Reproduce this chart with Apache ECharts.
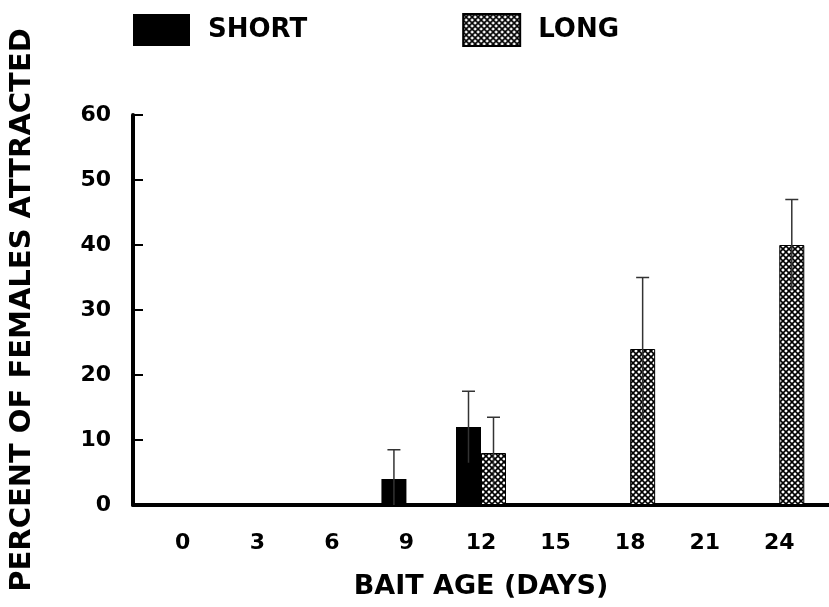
<!DOCTYPE html>
<html>
<head>
<meta charset="utf-8">
<script src="https://cdn.jsdelivr.net/npm/echarts@6/dist/echarts.min.js"></script>
<style>
  html, body { margin: 0; padding: 0; background: #fff; }
  #chart { width: 829px; height: 607px; }
</style>
</head>
<body>
<div id="chart"></div>
<script>
// bait age in days (x ticks)
var days = [0, 3, 6, 9, 12, 15, 18, 21, 24];
// percent of females attracted
var shortVals = [0, 0, 0, 4, 12, 0, 0, 0, 0];
var longVals = [0, 0, 0, 0, 8, 0, 24, 0, 40];
// error bar half-widths
var shortErr = [0, 0, 0, 4.5, 5.5, 0, 0, 0, 0];
var longErr = [0, 0, 0, 0, 5.5, 0, 11, 0, 7];
var yTicks = [0, 10, 20, 30, 40, 50, 60];

var FONT = "DejaVu Sans";
var BAR_W = 25;

// cross hatch fill for the LONG bars
function hatch() {
  var c = document.createElement("canvas");
  c.width = 6;
  c.height = 6;
  var ctx = c.getContext("2d");
  ctx.fillStyle = "#fff";
  ctx.fillRect(0, 0, 6, 6);
  ctx.strokeStyle = "#000";
  ctx.lineWidth = 1.6;
  ctx.beginPath();
  ctx.moveTo(-1, -1); ctx.lineTo(7, 7);
  ctx.moveTo(7, -1); ctx.lineTo(-1, 7);
  ctx.stroke();
  return c;
}
var hatchFill = { image: hatch(), repeat: "repeat" };

function pairs(vals) {
  return days.map(function (d, i) { return [d, vals[i]]; });
}
function errPairs(vals, errs) {
  return days.map(function (d, i) { return [d, vals[i], errs[i]]; });
}

function errorBar(offset) {
  return function (params, api) {
    var e = api.value(2);
    if (!e) return null;
    var x = api.value(0), y = api.value(1);
    var top = api.coord([x, y + e]);
    var bot = api.coord([x, Math.max(0, y - e)]);
    var px = top[0] + offset;
    var style = { stroke: "#333", lineWidth: 1.5 };
    return {
      type: "group",
      children: [
        { type: "line", shape: { x1: px, y1: bot[1], x2: px, y2: top[1] }, style: style },
        { type: "line", shape: { x1: px - 6.5, y1: top[1], x2: px + 6.5, y2: top[1] }, style: style }
      ]
    };
  };
}

var chart = echarts.init(document.getElementById("chart"));
chart.setOption({
  animation: false,
  backgroundColor: "#fff",
  textStyle: { fontFamily: FONT },
  legend: {
    left: 128,
    top: 8,
    itemWidth: 57,
    itemHeight: 32,
    itemGap: 155,
    icon: "rect",
    data: ["SHORT", "LONG"],
    textStyle: { fontFamily: FONT, fontWeight: "bold", fontSize: 26, color: "#000", padding: [0, 0, 0, 13] }
  },
  grid: { left: 132, right: 0, top: 115, bottom: 102 },
  xAxis: {
    type: "value",
    min: -2,
    max: 26,
    name: "BAIT AGE (DAYS)",
    nameLocation: "middle",
    nameGap: 68,
    nameTextStyle: { fontFamily: FONT, fontWeight: "bold", fontSize: 27, color: "#000" },
    axisLine: { show: true, onZero: false, lineStyle: { color: "#000", width: 4 } },
    axisTick: { show: false },
    splitLine: { show: false },
    axisLabel: {
      customValues: days,
      margin: 27,
      fontFamily: FONT, fontWeight: "bold", fontSize: 22, color: "#000"
    }
  },
  yAxis: {
    type: "value",
    min: 0,
    max: 60,
    interval: 10,
    name: "PERCENT OF FEMALES ATTRACTED",
    nameLocation: "middle",
    nameGap: 96,
    nameTextStyle: { fontFamily: FONT, fontWeight: "bold", fontSize: 29, color: "#000" },
    axisLine: { show: true, onZero: false, lineStyle: { color: "#000", width: 4 } },
    axisTick: { show: true, inside: true, length: 10, lineStyle: { color: "#000", width: 2 } },
    splitLine: { show: false },
    axisLabel: {
      customValues: yTicks,
      margin: 22,
      fontFamily: FONT, fontWeight: "bold", fontSize: 22, color: "#000"
    }
  },
  series: [
    {
      name: "SHORT",
      type: "bar",
      barWidth: BAR_W,
      barGap: "0%",
      itemStyle: { color: "#000" },
      data: pairs(shortVals)
    },
    {
      name: "LONG",
      type: "bar",
      barWidth: BAR_W,
      barGap: "0%",
      itemStyle: { color: hatchFill, borderColor: "#000", borderWidth: 1 },
      data: pairs(longVals)
    },
    {
      type: "custom",
      renderItem: errorBar(-BAR_W / 2),
      z: 5,
      data: errPairs(shortVals, shortErr)
    },
    {
      type: "custom",
      renderItem: errorBar(BAR_W / 2),
      z: 5,
      data: errPairs(longVals, longErr)
    }
  ]
});
</script>
</body>
</html>
